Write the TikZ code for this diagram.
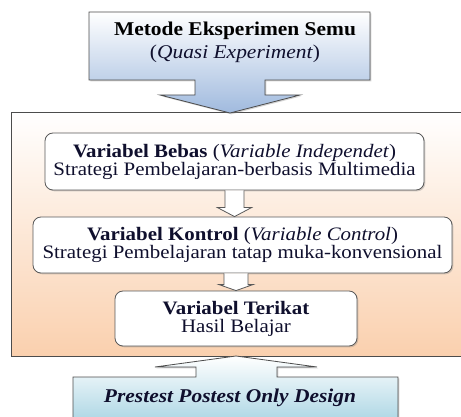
\documentclass[tikz,border=0pt]{standalone}
\usepackage{fontspec}
\setmainfont[FakeStretch=1.1]{Liberation Serif}
\usepackage{xcolor}
\usetikzlibrary{calc,shadows}
\definecolor{inkblue}{RGB}{15,15,45}
\definecolor{peach}{RGB}{250,208,174}
\definecolor{skyblue}{RGB}{160,186,222}
\definecolor{iceblue}{RGB}{172,214,228}

\begin{document}
\begin{tikzpicture}[x=1pt,y=-1pt,
                    boxshadow/.style={drop shadow={shadow xshift=1.3pt,shadow yshift=-1.3pt,opacity=.35}},
                    varbox/.style={draw=black!65,line width=.8pt,fill=white,rounded corners=8pt,align=center,text=inkblue,font=\fontsize{19}{18}\selectfont,boxshadow},
                    callout/.style={draw=black!70,line width=.8pt,boxshadow},
                    hollow/.style={draw=black!65,line width=.8pt,fill=white}]
                    \useasboundingbox (0,0) rectangle (461,417);

                    \draw[callout,top color=white,bottom color=peach] (11,112) rectangle (463,356);

                    \draw[callout,top color=white,bottom color=skyblue] (89,12) -- (370,12) -- (370,80) -- (265,80) -- (265,95) -- (300,95) -- (230,113) -- (160,95) -- (195,95) -- (195,80) -- (89,80) -- cycle;
                    \node[align=center,font=\fontsize{19.5}{23}\selectfont] (metode) at (235,42) {\textbf{Metode Eksperimen Semu}\\\textcolor{inkblue}{(\textit{Quasi Experiment})}};

                    \node[varbox,minimum width=379pt,minimum height=57pt] (bebas) at (234.5,161.5) {\textbf{Variabel Bebas} (\textit{Variable Independet})\\Strategi Pembelajaran-berbasis Multimedia};
                    \node[varbox,minimum width=419pt,minimum height=56pt] (kontrol) at (242.5,245) {\textbf{Variabel Kontrol} (\textit{Variable Control})\\Strategi Pembelajaran tatap muka-konvensional};
                    \node[varbox,minimum width=242pt,minimum height=55pt] (terikat) at (236,318.5) {\textbf{Variabel Terikat}\\Hasil Belajar};

                    \draw[hollow] let \p1=(bebas.south), \p2=(kontrol.north) in (\x1-9.5pt,\y1) -- (\x1-9.5pt,\y2+9pt) -- (\x1-17pt,\y2+9pt) -- (\x1,\y2) -- (\x1+17pt,\y2+9pt) -- (\x1+9.5pt,\y2+9pt) -- (\x1+9.5pt,\y1);
                    \draw[hollow] let \p1=(kontrol.south), \p2=(terikat.north) in (\x2-12pt,\y1) -- (\x2-12pt,\y2+6pt) -- (\x2-17pt,\y2+6pt) -- (\x2,\y2) -- (\x2+17pt,\y2+6pt) -- (\x2+12pt,\y2+6pt) -- (\x2+12pt,\y1);

                    \draw[callout,top color=white,bottom color=iceblue] (73,422) -- (73,377) -- (196,377) -- (196,367) -- (155,367) -- (236,356) -- (317,367) -- (277,367) -- (277,377) -- (398,377) -- (398,422) -- cycle;
                    \node[anchor=base,text=inkblue,font=\fontsize{19.5}{23}\selectfont\bfseries\itshape] (design) at (230,402) {Prestest Postest Only Design};
\end{tikzpicture}
\end{document}
